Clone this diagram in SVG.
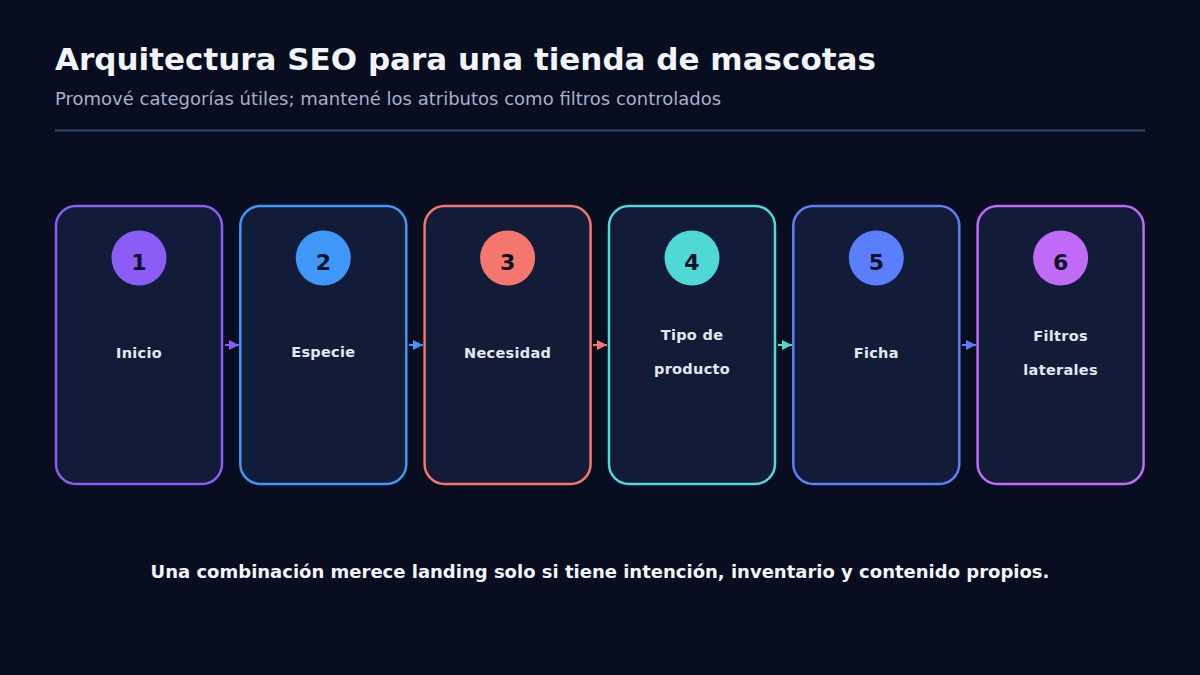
<svg xmlns="http://www.w3.org/2000/svg" width="1200" height="675" viewBox="0 0 1200 675">
<defs>
<style>
text{font-family:"DejaVu Sans","Liberation Sans",sans-serif;}
.title{font-size:31px;font-weight:bold;fill:#f1f5f9;}
.sub{font-size:18px;fill:#a3b2cc;}
.card{fill:#121c39;stroke-width:2.5;}
.num{font-size:22px;font-weight:bold;fill:#0b1226;text-anchor:middle;}
.lbl{font-size:14.5px;font-weight:bold;fill:#e2e8f0;text-anchor:middle;letter-spacing:0.3px;}
.foot{font-size:18px;font-weight:bold;fill:#f1f5f9;text-anchor:middle;}
.conn{stroke-width:2;fill:none;}
</style>
<marker id="a1" viewBox="0 0 10 10" refX="10" refY="5" markerWidth="10" markerHeight="11" markerUnits="userSpaceOnUse" orient="auto"><path d="M0,0L10,5L0,10z" fill="#8b5cf6"/></marker>
<marker id="a2" viewBox="0 0 10 10" refX="10" refY="5" markerWidth="10" markerHeight="11" markerUnits="userSpaceOnUse" orient="auto"><path d="M0,0L10,5L0,10z" fill="#3f97f7"/></marker>
<marker id="a3" viewBox="0 0 10 10" refX="10" refY="5" markerWidth="10" markerHeight="11" markerUnits="userSpaceOnUse" orient="auto"><path d="M0,0L10,5L0,10z" fill="#f4766c"/></marker>
<marker id="a4" viewBox="0 0 10 10" refX="10" refY="5" markerWidth="10" markerHeight="11" markerUnits="userSpaceOnUse" orient="auto"><path d="M0,0L10,5L0,10z" fill="#4fd8d6"/></marker>
<marker id="a5" viewBox="0 0 10 10" refX="10" refY="5" markerWidth="10" markerHeight="11" markerUnits="userSpaceOnUse" orient="auto"><path d="M0,0L10,5L0,10z" fill="#5b7ffa"/></marker>
</defs>
<rect width="1200" height="675" fill="#080d1f"/>
<text class="title" x="55" y="70">Arquitectura SEO para una tienda de mascotas</text>
<text class="sub" x="55" y="105">Promové categorías útiles; mantené los atributos como filtros controlados</text>
<line x1="55" y1="130.5" x2="1145" y2="130.5" stroke="#33486b" stroke-width="2"/>
<g id="connectors">
<line class="conn" x1="225" y1="345" x2="239" y2="345" stroke="#8b5cf6" marker-end="url(#a1)"/>
<line class="conn" x1="409" y1="345" x2="423" y2="345" stroke="#3f97f7" marker-end="url(#a2)"/>
<line class="conn" x1="593" y1="345" x2="607" y2="345" stroke="#f4766c" marker-end="url(#a3)"/>
<line class="conn" x1="778" y1="345" x2="792" y2="345" stroke="#4fd8d6" marker-end="url(#a4)"/>
<line class="conn" x1="962" y1="345" x2="976" y2="345" stroke="#5b7ffa" marker-end="url(#a5)"/>
</g>
<g id="node1">
<rect class="card" x="56" y="206" width="166" height="278" rx="20" stroke="#8b5cf6"/>
<circle cx="139" cy="258" r="27.5" fill="#8b5cf6"/>
<text class="num" x="139" y="270">1</text>
<text class="lbl" x="139" y="358">Inicio</text>
</g>
<g id="node2">
<rect class="card" x="240.3" y="206" width="166" height="278" rx="20" stroke="#3f97f7"/>
<circle cx="323.3" cy="258" r="27.5" fill="#3f97f7"/>
<text class="num" x="323.3" y="270">2</text>
<text class="lbl" x="323.3" y="357">Especie</text>
</g>
<g id="node3">
<rect class="card" x="424.6" y="206" width="166" height="278" rx="20" stroke="#f4766c"/>
<circle cx="507.6" cy="258" r="27.5" fill="#f4766c"/>
<text class="num" x="507.6" y="270">3</text>
<text class="lbl" x="507.6" y="358">Necesidad</text>
</g>
<g id="node4">
<rect class="card" x="609" y="206" width="166" height="278" rx="20" stroke="#4fd8d6"/>
<circle cx="692" cy="258" r="27.5" fill="#4fd8d6"/>
<text class="num" x="692" y="270">4</text>
<text class="lbl" x="692" y="340">Tipo de</text>
<text class="lbl" x="692" y="374">producto</text>
</g>
<g id="node5">
<rect class="card" x="793.3" y="206" width="166" height="278" rx="20" stroke="#5b7ffa"/>
<circle cx="876.3" cy="258" r="27.5" fill="#5b7ffa"/>
<text class="num" x="876.3" y="270">5</text>
<text class="lbl" x="876.3" y="358">Ficha</text>
</g>
<g id="node6">
<rect class="card" x="977.6" y="206" width="166" height="278" rx="20" stroke="#c06af7"/>
<circle cx="1060.6" cy="258" r="27.5" fill="#c06af7"/>
<text class="num" x="1060.6" y="270">6</text>
<text class="lbl" x="1060.6" y="341">Filtros</text>
<text class="lbl" x="1060.6" y="375">laterales</text>
</g>
<text class="foot" x="600" y="578">Una combinación merece landing solo si tiene intención, inventario y contenido propios.</text>
</svg>
